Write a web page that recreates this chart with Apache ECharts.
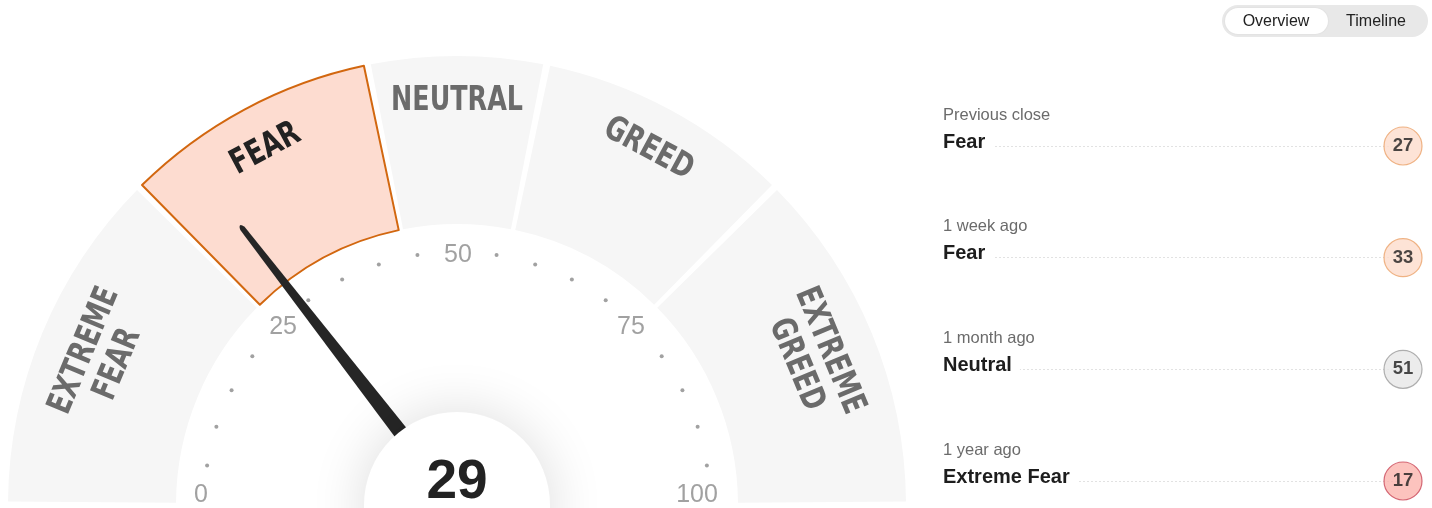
<!DOCTYPE html>
<html>
<head>
<meta charset="utf-8">
<script src="https://cdn.jsdelivr.net/npm/echarts@6/dist/echarts.min.js"></script>
<style>
html,body{margin:0;padding:0;background:#fff;}
#chart{width:1432px;height:508px;}
</style>
</head>
<body>
<div id="chart"></div>
<script>
// ---- data ----
var zoneNames = ['EXTREME\nFEAR', 'FEAR', 'NEUTRAL', 'GREED', 'EXTREME\nGREED'];
var zoneArcSizes = [25, 18.6, 12.8, 18.6, 25];   // share of the half circle each zone is drawn with
var currentValue = 29;
var currentZone = 'FEAR';
var majorTicks = [0, 25, 50, 75, 100];
var minorTicks = [5, 10, 15, 20, 30, 35, 40, 45, 55, 60, 65, 70, 80, 85, 90, 95];
var historyPeriods = ['Previous close', '1 week ago', '1 month ago', '1 year ago'];
var historyRatings = ['Fear', 'Fear', 'Neutral', 'Extreme Fear'];
var historyValues = [27, 33, 51, 17];
var toggleLabels = ['Overview', 'Timeline'];

// ---- style ----
var CX = 457, CY = 505;
var SANS = "'Liberation Sans', Arial, Helvetica, sans-serif";
var COND = "'DejaVu Sans Condensed', 'DejaVu Sans', sans-serif";
var badgeStyle = {
  'Extreme Fear': {fill: '#fbb4ae', border: '#c9485a'},
  'Fear': {fill: '#fddccc', border: '#eba26a'},
  'Neutral': {fill: '#e7e7e7', border: '#9c9c9c'},
  'Greed': {fill: '#d6f0dc', border: '#6cb27c'},
  'Extreme Greed': {fill: '#b9e6c4', border: '#3f9a58'}
};
var majorLabelOffset = {0: [-3, -10], 25: [5, 1], 50: [1, 3], 75: [-5, 1], 100: [-13, -10]};

var chart = echarts.init(document.getElementById('chart'), null, {renderer: 'canvas'});

var zoneData = zoneNames.map(function (n, i) {
  var sel = n === currentZone;
  return {
    name: n, value: zoneArcSizes[i],
    itemStyle: sel ? {color: '#fddcd0', borderColor: '#d2670f', borderWidth: 2}
                   : {color: '#f6f6f6', borderWidth: 0}
  };
});

// zone captions, placed at the middle angle of each zone (condensed lettering)
var arcTotal = zoneArcSizes.reduce(function (a, b) { return a + b; }, 0);
var zoneLabels = [];
var cum = 0;
zoneNames.forEach(function (n, i) {
  var mid = (cum + zoneArcSizes[i] / 2) / arcTotal;
  cum += zoneArcSizes[i];
  var theta = mid * Math.PI;               // 0 = left, PI = right
  var two = n.indexOf('\n') >= 0;
  var r = two ? 385 : 404;
  zoneLabels.push({
    type: 'text', z: 20, silent: true,
    x: CX - r * Math.cos(theta),
    y: CY - r * Math.sin(theta),
    rotation: Math.PI / 2 - theta,
    scaleX: 0.83,
    style: {
      text: n, fontFamily: COND, fontWeight: 'bold', fontSize: 34, lineHeight: 36,
      fill: n === currentZone ? '#222222' : '#6b6b6b',
      align: 'center', verticalAlign: 'middle'
    }
  });
});

var option = {
  animation: false,
  polar: {center: [CX, CY], radius: 253},
  angleAxis: {type: 'value', min: 0, max: 200, startAngle: 180, clockwise: true, show: false,
              axisLine: {show: false}, splitLine: {show: false}, axisLabel: {show: false}, axisTick: {show: false}},
  radiusAxis: {type: 'value', min: 0, max: 1, show: false,
               axisLine: {show: false}, splitLine: {show: false}, axisLabel: {show: false}, axisTick: {show: false}},
  grid: [
    {left: 943, right: 29, top: 146, bottom: 27},
    {left: 1384, right: 10, top: 146, bottom: 27}
  ],
  xAxis: [
    {gridIndex: 0, type: 'value', show: false, min: 0, max: 1},
    {gridIndex: 1, type: 'category', data: ['score'], show: false}
  ],
  yAxis: [
    {gridIndex: 0, type: 'category', data: historyPeriods, inverse: true, boundaryGap: false,
     axisLine: {show: false}, axisTick: {show: false},
     splitLine: {show: true, lineStyle: {type: [2, 2], color: '#e2e2e2', width: 1}},
     axisLabel: {
       margin: 0, align: 'left', verticalAlign: 'middle', padding: [0, 0, 35, 0],
       formatter: function (v, i) { return '{p|' + v + '}\n{c|' + historyRatings[i] + '}'; },
       rich: {
         p: {fontFamily: SANS, fontSize: 16.5, color: '#6b6b6b', lineHeight: 27},
         c: {fontFamily: SANS, fontSize: 20, fontWeight: 'bold', color: '#1d1d1d', lineHeight: 27,
             backgroundColor: '#ffffff', padding: [0, 8, 0, 0]}
       }
     }},
    {gridIndex: 1, type: 'category', data: historyPeriods, inverse: true, boundaryGap: false, show: false}
  ],
  graphic: [
    {type: 'rect', x: 1222, y: 5, z: 10,
     shape: {width: 206, height: 32, r: 16}, style: {fill: '#e8e8e8'}},
    {type: 'rect', x: 1225, y: 8, z: 11,
     shape: {width: 103, height: 26, r: 13},
     style: {fill: '#ffffff', shadowBlur: 2, shadowColor: 'rgba(0,0,0,0.08)'}},
    {type: 'text', x: 1276, y: 22, z: 12,
     style: {text: toggleLabels[0], font: '16px ' + SANS, fill: '#222', align: 'center', verticalAlign: 'middle'}},
    {type: 'text', x: 1376, y: 22, z: 12,
     style: {text: toggleLabels[1], font: '16px ' + SANS, fill: '#222', align: 'center', verticalAlign: 'middle'}}
  ].concat(zoneLabels),
  series: [
    {
      type: 'pie', z: 1, silent: true,
      center: [CX, CY], radius: [281, 449],
      startAngle: 180, endAngle: 0, clockwise: true, padAngle: 0.9,
      label: {show: false}, labelLine: {show: false},
      data: zoneData
    },
    {
      type: 'scatter', coordinateSystem: 'polar', z: 3, silent: true,
      symbolSize: 4, itemStyle: {color: '#8a8a8a'},
      data: minorTicks.map(function (t) { return [1, t]; })
    },
    {
      type: 'scatter', coordinateSystem: 'polar', z: 3, silent: true,
      symbolSize: 0,
      label: {show: true, position: 'inside', fontFamily: SANS, fontSize: 25, color: '#8a8a8a'},
      data: majorTicks.map(function (t) {
        return {value: [1, t], label: {formatter: String(t), offset: majorLabelOffset[t]}};
      })
    },
    {
      type: 'gauge', z: 5,
      center: [CX, CY], radius: 354,
      startAngle: 180, endAngle: 0, min: 0, max: 100,
      axisLine: {show: false}, axisTick: {show: false}, splitLine: {show: false}, axisLabel: {show: false},
      pointer: {
        show: true, length: '100%', width: 18,
        icon: 'path://M2.8,1.6 Q4,-0.6 5.2,1.6 L8,100 L0,100 Z',
        itemStyle: {color: '#262626'}
      },
      anchor: {show: true, showAbove: true, size: 186,
               itemStyle: {color: '#ffffff', shadowBlur: 55, shadowColor: 'rgba(0,0,0,0.14)'}},
      title: {show: false},
      detail: {show: false},
      data: [{value: currentValue}]
    },
    {
      type: 'gauge', z: 6,
      center: [CX, CY], radius: 353,
      startAngle: 180, endAngle: 0, min: 0, max: 100,
      axisLine: {show: false}, axisTick: {show: false}, splitLine: {show: false}, axisLabel: {show: false},
      pointer: {show: false}, anchor: {show: false}, title: {show: false},
      detail: {show: true, offsetCenter: [0, -22], fontSize: 55, fontWeight: 'bold',
               fontFamily: SANS, color: '#222222', valueAnimation: false},
      data: [{value: currentValue}]
    },
    {
      type: 'scatter', xAxisIndex: 1, yAxisIndex: 1, z: 4, silent: true,
      symbolSize: 38,
      label: {show: true, position: 'inside', fontFamily: SANS, fontWeight: 'bold', fontSize: 18.5,
              color: '#1d1d1d', formatter: function (p) { return p.value[2]; }},
      data: historyValues.map(function (v, i) {
        var st = badgeStyle[historyRatings[i]];
        return {value: ['score', historyPeriods[i], v],
                itemStyle: {color: st.fill, borderColor: st.border, borderWidth: 1.2}};
      })
    }
  ]
};
chart.setOption(option);
</script>
</body>
</html>
